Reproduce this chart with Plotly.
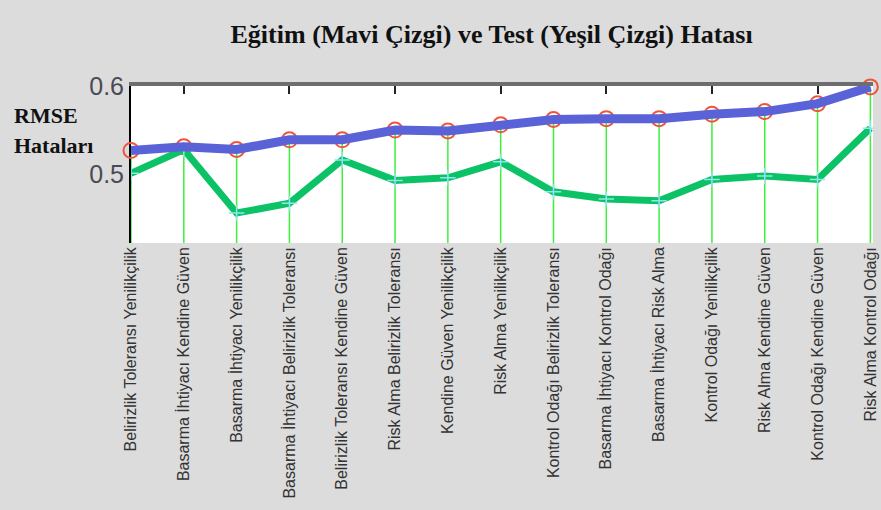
import plotly.graph_objects as go

categories = [
    "Belirizlik Toleransı Yenilikçilik",
    "Basarma İhtiyacı Kendine Güven",
    "Basarma İhtiyacı Yenilikçilik",
    "Basarma İhtiyacı Belirizlik Toleransı",
    "Belirizlik Toleransı Kendine Güven",
    "Risk Alma Belirizlik Toleransı",
    "Kendine Güven Yenilikçilik",
    "Risk Alma Yenilikçilik",
    "Kontrol Odağı Belirizlik Toleransı",
    "Basarma İhtiyacı Kontrol Odağı",
    "Basarma İhtiyacı Risk Alma",
    "Kontrol Odağı Yenilikçilik",
    "Risk Alma Kendine Güven",
    "Kontrol Odağı Kendine Güven",
    "Risk Alma Kontrol Odağı",
]
train_rmse = [0.527, 0.531, 0.528, 0.539, 0.539, 0.550, 0.549, 0.556, 0.562,
              0.563, 0.563, 0.568, 0.571, 0.580, 0.599]
test_rmse = [0.501, 0.528, 0.456, 0.467, 0.516, 0.493, 0.496, 0.514, 0.480,
             0.472, 0.470, 0.494, 0.498, 0.494, 0.552]
y_ticks = [0.5, 0.6]
y_range = [0.422, 0.6]

idx = list(range(len(categories)))

fig = go.Figure()

# green stems from bottom to training value
sx, sy = [], []
for i, v in zip(idx, train_rmse):
    sx += [i, i, None]
    sy += [y_range[0], v, None]
fig.add_trace(go.Scatter(x=sx, y=sy, mode="lines",
                         line=dict(color="#3cf03c", width=1.5),
                         hoverinfo="skip", showlegend=False))

# red open markers at training values (behind the blue line)
fig.add_trace(go.Scatter(x=idx, y=train_rmse, mode="markers",
                         marker=dict(symbol="circle-open", size=15,
                                     line=dict(color="#ff4040", width=2)),
                         cliponaxis=False, showlegend=False))

# test line (green)
fig.add_trace(go.Scatter(x=idx, y=test_rmse, mode="lines+markers",
                         line=dict(color="#0cc266", width=7),
                         marker=dict(symbol="cross-thin", size=11,
                                     line=dict(color="#8fe6f2", width=1.5)),
                         showlegend=False))

# training line (blue)
fig.add_trace(go.Scatter(x=idx, y=train_rmse, mode="lines",
                         line=dict(color="#5a62d8", width=9),
                         cliponaxis=False, showlegend=False))

# invisible trace to activate top axis
fig.add_trace(go.Scatter(x=idx, y=train_rmse, xaxis="x2", mode="markers",
                         marker=dict(opacity=0), hoverinfo="skip",
                         showlegend=False))

fig.update_layout(
    width=881, height=510,
    margin=dict(l=131, r=8, t=86, b=267, autoexpand=False),
    paper_bgcolor="#dcdcdc",
    plot_bgcolor="#ffffff",
    title=dict(text="<b>Eğitim (Mavi Çizgi) ve Test (Yeşil Çizgi) Hatası</b>",
               x=0.558, xanchor="center", y=0.933, yanchor="middle",
               font=dict(family="Liberation Serif, Times New Roman, serif",
                         size=26, color="#111111")),
    xaxis=dict(range=[0, 14.05], tickvals=idx, ticktext=categories,
               tickangle=-90, showgrid=False, zeroline=False, ticks="",
               automargin=False, ticklabeloverflow="allow",
               tickfont=dict(family="Liberation Sans, Arial, sans-serif",
                             size=16, color="#333333"),
               showline=False),
    xaxis2=dict(overlaying="x", side="top", range=[0, 14.05],
                tickvals=idx[1::2], ticks="inside", ticklen=8,
                tickwidth=2, tickcolor="#222222", showticklabels=False,
                showgrid=False, zeroline=False, showline=True,
                linecolor="#6e6e6e", linewidth=4),
    yaxis=dict(range=y_range, tickvals=y_ticks,
               ticktext=[f"{v:.1f}" for v in y_ticks],
               showgrid=False, zeroline=False, ticks="",
               showline=True, linecolor="#000000", linewidth=2,
               layer="below traces", automargin=False,
               tickfont=dict(family="Liberation Sans Narrow, Liberation Sans, Arial",
                             size=25, color="#4a4a55")),
    annotations=[
        dict(text="<b>RMSE</b>", xref="paper", yref="paper", x=0, y=0.815,
             xanchor="left", yanchor="middle", xshift=-119, showarrow=False,
             font=dict(family="Liberation Serif, Times New Roman, serif",
                       size=22, color="#111111")),
        dict(text="<b>Hataları</b>", xref="paper", yref="paper", x=0, y=0.624,
             xanchor="left", yanchor="middle", xshift=-119, showarrow=False,
             font=dict(family="Liberation Serif, Times New Roman, serif",
                       size=22, color="#111111")),
    ],
)

fig.write_html("out.html",
               config={"displayModeBar": False},
               post_script="document.body.style.margin='0';"
                           "document.body.style.overflow='hidden';")
